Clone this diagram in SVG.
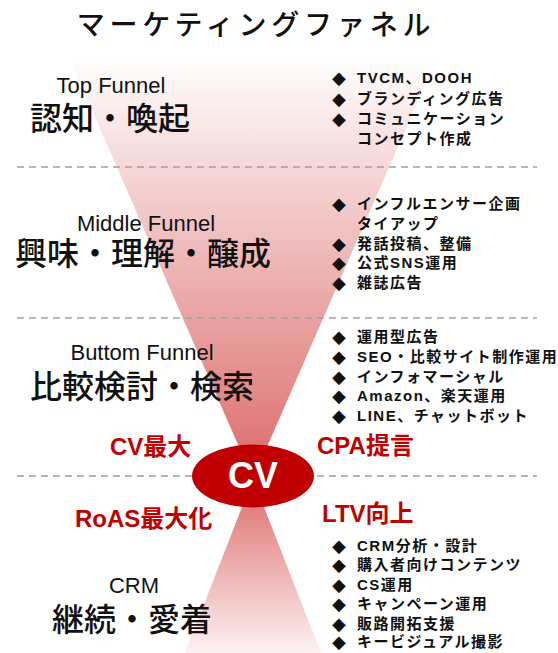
<svg xmlns="http://www.w3.org/2000/svg" width="558" height="653" viewBox="0 0 558 653">
<defs>
<linearGradient id="gUp" gradientUnits="userSpaceOnUse" x1="0" y1="55" x2="0" y2="479">
<stop offset="0" stop-color="#ffffff"/>
<stop offset="1" stop-color="#dc6a6a"/>
</linearGradient>
<linearGradient id="gDown" gradientUnits="userSpaceOnUse" x1="0" y1="479" x2="0" y2="653">
<stop offset="0" stop-color="#dc6a6a"/>
<stop offset="1" stop-color="#fdf2f2"/>
</linearGradient>
<style>
.title{font-family:"Noto Sans CJK JP","Noto Sans",sans-serif;font-size:28px;font-weight:500;fill:#111;letter-spacing:4.8px}
.en{font-family:"Liberation Sans","Noto Sans CJK JP",sans-serif;font-size:22px;fill:#111;text-anchor:middle}
.jp{font-family:"Noto Sans CJK JP",sans-serif;font-size:32px;font-weight:500;fill:#111;text-anchor:middle}
.li{font-family:"Liberation Sans","Noto Sans CJK JP",sans-serif;font-size:15px;font-weight:bold;fill:#111;letter-spacing:1.5px}
.bu{font-family:"DejaVu Sans",sans-serif;font-size:18px;fill:#111}
.red{font-family:"Liberation Sans","Noto Sans CJK JP",sans-serif;font-size:24px;font-weight:bold;fill:#c00000}
.sep{stroke:#a0a0a0;stroke-width:1.5;stroke-dasharray:7 5;fill:none}
</style>
</defs>
<rect width="558" height="653" fill="#ffffff"/>

<g id="funnel-upper"><polygon points="68,55 438,55 253,479" fill="url(#gUp)"/></g>
<g id="funnel-lower"><polygon points="253,479 321,653 185,653" fill="url(#gDown)"/></g>

<g id="separators">
<line class="sep" x1="17" y1="167" x2="537" y2="167"/>
<line class="sep" x1="17" y1="318" x2="537" y2="318"/>
<line class="sep" x1="17" y1="476" x2="537" y2="476"/>
</g>

<g id="title"><text class="title" x="256" y="35" text-anchor="middle">マーケティングファネル</text></g>

<g id="stage-top">
<text class="en" x="111" y="93">Top Funnel</text>
<text class="jp" x="110" y="130">認知・喚起</text>
</g>
<g id="stage-middle">
<text class="en" x="146" y="231">Middle Funnel</text>
<text class="jp" x="143" y="265">興味・理解・醸成</text>
</g>
<g id="stage-bottom">
<text class="en" x="142" y="360">Buttom Funnel</text>
<text class="jp" x="142" y="398">比較検討・検索</text>
</g>
<g id="stage-crm">
<text class="en" x="134" y="593">CRM</text>
<text class="jp" x="132" y="631">継続・愛着</text>
</g>

<g id="list-top">
<text class="bu" x="332" y="84">◆</text><text class="li" x="357" y="83">TVCM、DOOH</text>
<text class="bu" x="332" y="105">◆</text><text class="li" x="357" y="104">ブランディング広告</text>
<text class="bu" x="332" y="125">◆</text><text class="li" x="357" y="124">コミュニケーション</text>
<text class="li" x="357" y="144">コンセプト作成</text>
</g>
<g id="list-middle">
<text class="bu" x="332" y="210">◆</text><text class="li" x="357" y="209">インフルエンサー企画</text>
<text class="li" x="357" y="229">タイアップ</text>
<text class="bu" x="332" y="250">◆</text><text class="li" x="357" y="249">発話投稿、整備</text>
<text class="bu" x="332" y="269">◆</text><text class="li" x="357" y="268">公式SNS運用</text>
<text class="bu" x="332" y="289">◆</text><text class="li" x="357" y="288">雑誌広告</text>
</g>
<g id="list-bottom">
<text class="bu" x="332" y="343">◆</text><text class="li" x="357" y="342">運用型広告</text>
<text class="bu" x="332" y="363">◆</text><text class="li" x="357" y="362">SEO・比較サイト制作運用</text>
<text class="bu" x="332" y="383">◆</text><text class="li" x="357" y="382">インフォマーシャル</text>
<text class="bu" x="332" y="402">◆</text><text class="li" x="357" y="401">Amazon、楽天運用</text>
<text class="bu" x="332" y="422">◆</text><text class="li" x="357" y="421">LINE、チャットボット</text>
</g>
<g id="list-crm">
<text class="bu" x="332" y="552">◆</text><text class="li" x="357" y="551">CRM分析・設計</text>
<text class="bu" x="332" y="571">◆</text><text class="li" x="357" y="570">購入者向けコンテンツ</text>
<text class="bu" x="332" y="591">◆</text><text class="li" x="357" y="590">CS運用</text>
<text class="bu" x="332" y="610">◆</text><text class="li" x="357" y="609">キャンペーン運用</text>
<text class="bu" x="332" y="630">◆</text><text class="li" x="357" y="629">販路開拓支援</text>
<text class="bu" x="332" y="648">◆</text><text class="li" x="357" y="647">キービジュアル撮影</text>
</g>

<g id="kpi-labels">
<text class="red" x="110" y="455">CV最大</text>
<text class="red" x="317" y="454">CPA提言</text>
<text class="red" x="75" y="527">RoAS最大化</text>
<text class="red" x="322" y="522">LTV向上</text>
</g>

<g id="cv">
<ellipse cx="253" cy="476" rx="61" ry="31.5" fill="#c00000"/>
<text x="253" y="488" text-anchor="middle" font-family="Liberation Sans, sans-serif" font-size="36" font-weight="bold" fill="#ffffff">CV</text>
</g>
</svg>
